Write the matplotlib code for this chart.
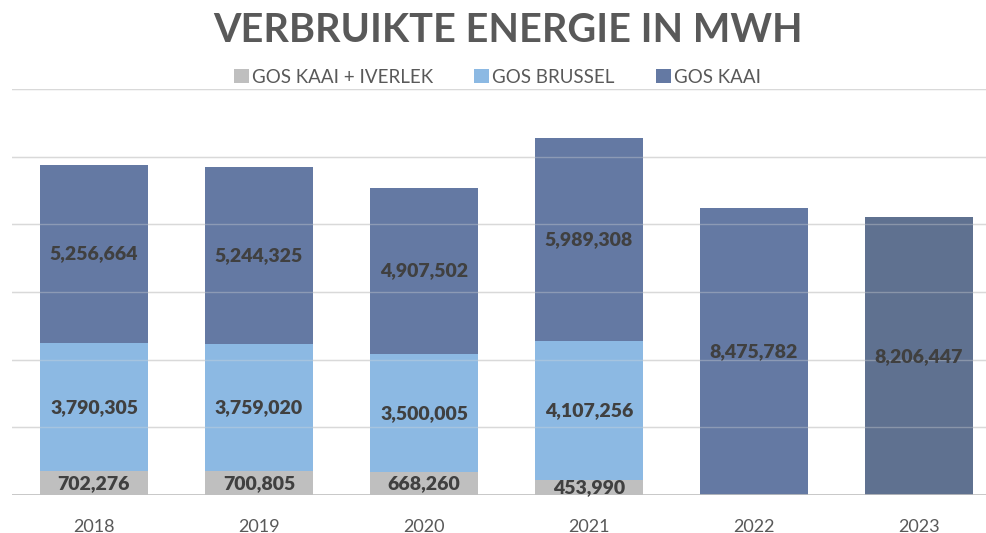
import numpy as np
import matplotlib.pyplot as plt

years = ['2018', '2019', '2020', '2021', '2022', '2023']
kaai_iverlek = [702276, 700805, 668260, 453990, 0, 0]
brussel = [3790305, 3759020, 3500005, 4107256, 0, 0]
kaai = [5256664, 5244325, 4907502, 5989308, 8475782, 8206447]

c_gray = '#bfbfbf'
c_light = '#8cb9e3'
c_dark = '#6479a3'
txt = '#595959'

plt.rcParams['font.family'] = ['Lato', 'DejaVu Sans']

fig = plt.figure(figsize=(9.87, 5.33), dpi=100)
ax = fig.add_axes([11.5 / 987, 38 / 533, 990 / 987, 406 / 533])

x = np.arange(len(years))
w = 0.655
b1 = np.array(kaai_iverlek)
b2 = b1 + np.array(brussel)
ax.bar(x, kaai_iverlek, w, color=c_gray, label='GOS KAAI + IVERLEK', zorder=2)
ax.bar(x, brussel, w, bottom=b1, color=c_light, label='GOS BRUSSEL', zorder=2)
dark_cols = [c_dark] * 5 + ['#5f7190']
ax.bar(x, kaai, w, bottom=b2, color=dark_cols, label='GOS KAAI', zorder=2)

# gridlines faintly visible through the bars
for g in range(2000000, 12000001, 2000000):
    ax.axhline(g, color='#d9d9d9', lw=1, zorder=1)
    ax.axhline(g, color='#d9d9d9', lw=1, alpha=0.35, zorder=3)
ax.axhline(0, color='#bfbfbf', lw=1.2, zorder=4)

lab = dict(ha='center', va='center', fontsize=14, fontweight='heavy', color='#404040', zorder=5)
for i in range(len(years)):
    if kaai_iverlek[i]:
        ax.text(x[i], kaai_iverlek[i] / 2, f'{kaai_iverlek[i]:,}', **lab)
    if brussel[i]:
        ax.text(x[i], b1[i] + brussel[i] / 2, f'{brussel[i]:,}', **lab)
    ax.text(x[i], b2[i] + kaai[i] / 2, f'{kaai[i]:,}', **lab)

ax.set_xlim(-0.5, 5.5)
ax.set_ylim(0, 12000000)
ax.set_yticks([])
ax.set_xticks(x)
ax.set_xticklabels(years, fontsize=13, color=txt)
ax.tick_params(axis='x', length=0, pad=17)
for s in ax.spines.values():
    s.set_visible(False)

fig.text(0.515, 0.943, 'VERBRUIKTE ENERGIE IN MWH', ha='center', va='center',
         fontsize=28.5, fontweight='bold', color=txt)
fig.legend(loc='center', bbox_to_anchor=(0.504, 0.855), ncol=3, frameon=False,
           fontsize=13.5, labelcolor=txt, handlelength=0.8, handleheight=0.8,
           handletextpad=0.15, columnspacing=2.2)

fig.savefig('out.png', dpi=100)
